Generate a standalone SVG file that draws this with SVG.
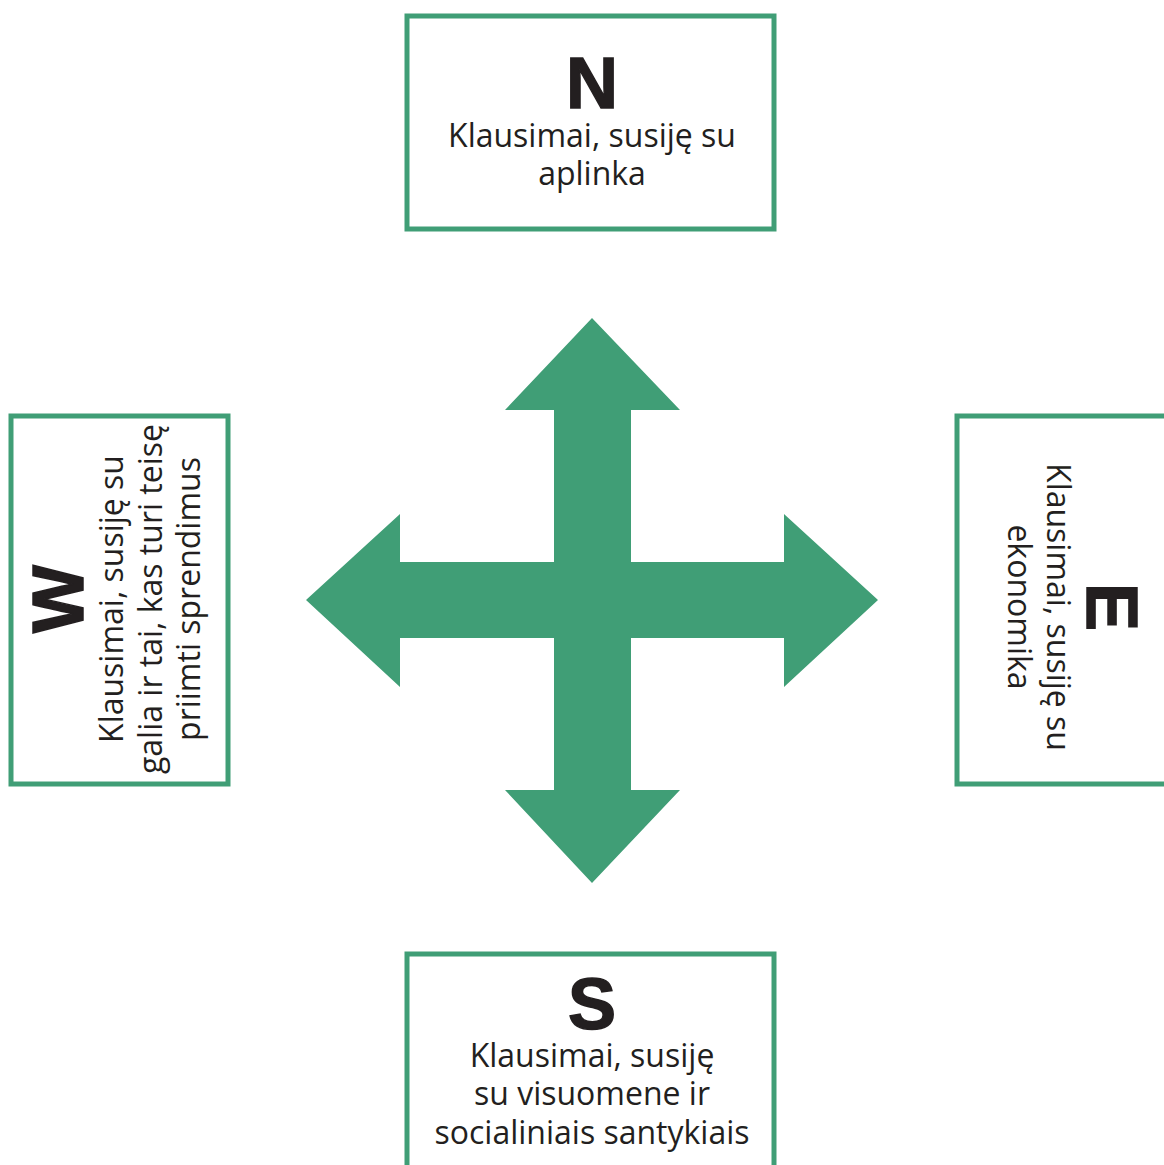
<svg xmlns="http://www.w3.org/2000/svg" width="1164" height="1165" viewBox="0 0 1164 1165">
<style>
.box{fill:#fff;stroke:#409e76;stroke-width:5}
.big{font-family:"Liberation Sans",Arial,sans-serif;font-weight:700;font-size:72px;fill:#231f20;stroke:#231f20;stroke-width:1.5;text-anchor:middle}
.txt{font-family:"Open Sans","Noto Sans",sans-serif;font-size:32px;fill:#231f20;text-anchor:middle}
</style>
<rect width="1164" height="1165" fill="#fff"/>
<g id="connectors">
<polygon fill="#409e76" points="592,318 680,410 631,410 631,562 784,562 784,514 878,600 784,687 784,638 631,638 631,790 680,790 592,883 505,790 554,790 554,638 400,638 400,687 306,600 400,514 400,562 554,562 554,410 505,410"/>
</g>
<g id="N">
<rect class="box" x="407" y="16" width="367" height="213"/>
<text class="big" x="592" y="108">N</text>
<text class="txt" x="592" y="147">Klausimai, susiję su</text>
<text class="txt" x="592" y="185">aplinka</text>
</g>
<g id="S">
<rect class="box" x="407" y="954" width="367" height="230"/>
<text class="big" x="592" y="1029">S</text>
<text class="txt" x="592" y="1067">Klausimai, susiję</text>
<text class="txt" x="592" y="1105">su visuomene ir</text>
<text class="txt" x="592" y="1144">socialiniais santykiais</text>
</g>
<g id="W">
<rect class="box" x="11" y="416" width="217" height="368"/>
<g transform="rotate(-90)">
<text class="big" x="-599" y="83">W</text>
<text class="txt" x="-599" y="123">Klausimai, susiję su</text>
<text class="txt" x="-599" y="162">galia ir tai, kas turi teisę</text>
<text class="txt" x="-599" y="200">priimti sprendimus</text>
</g>
</g>
<g id="E">
<rect class="box" x="957" y="416" width="230" height="368"/>
<g transform="rotate(90)">
<text class="big" x="607" y="-1087">E</text>
<text class="txt" x="607" y="-1047">Klausimai, susiję su</text>
<text class="txt" x="607" y="-1008">ekonomika</text>
</g>
</g>
</svg>
